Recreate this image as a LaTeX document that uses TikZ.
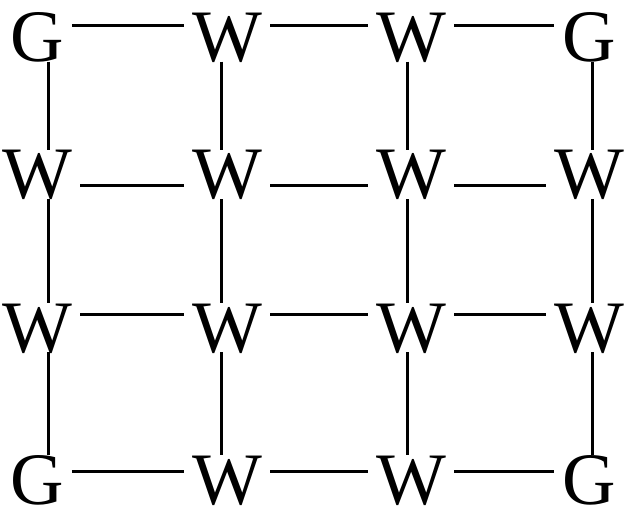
\documentclass[tikz,border=0pt]{standalone}
\usepackage{fontspec}
\setmainfont{Liberation Serif}
\usetikzlibrary{positioning}

\begin{document}
\begin{tikzpicture}[x=1pt, y=-1pt,
  site/.style={inner sep=0pt, text height=49pt, text depth=0pt,
               font=\fontsize{74}{80}\selectfont},
  bond/.style={line width=3pt}
]
  \useasboundingbox (0,0) rectangle (625,511);

  \node[site] (a1) at (37,37) {G};
  \node[site] (a2) at (227,37) {W};
  \node[site] (a3) at (411,37) {W};
  \node[site] (a4) at (589,37) {G};

  \node[site] (b1) at (37,174.5) {W};
  \node[site] (b2) at (227,174.5) {W};
  \node[site] (b3) at (411,174.5) {W};
  \node[site] (b4) at (589,174.5) {W};

  \node[site] (c1) at (37,327.5) {W};
  \node[site] (c2) at (227,327.5) {W};
  \node[site] (c3) at (411,327.5) {W};
  \node[site] (c4) at (589,327.5) {W};

  \node[site] (d1) at (37,480) {G};
  \node[site] (d2) at (227,480) {W};
  \node[site] (d3) at (411,480) {W};
  \node[site] (d4) at (589,480) {G};

  % horizontal bonds
  \foreach \r/\dy in {a/11, b/-11.5, c/13.5, d/8.5}
    \foreach \i/\j in {1/2, 2/3, 3/4}
      \draw[bond, shorten <=8pt, shorten >=8pt]
        ([yshift=\dy pt]\r\i.east) -- ([yshift=\dy pt]\r\j.west);

  % vertical bonds
  \foreach \c/\dx in {1/11, 2/-6, 3/-4, 4/3}
    \foreach \u/\v in {a/b, b/c, c/d}
      \draw[bond] ([xshift=\dx pt]\u\c.south) -- ([xshift=\dx pt]\v\c.north);
\end{tikzpicture}
\end{document}
